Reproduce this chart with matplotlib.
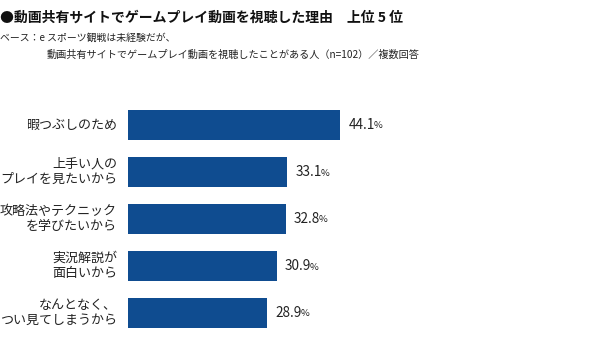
import matplotlib
matplotlib.use("Agg")
import matplotlib.pyplot as plt

plt.rcParams['font.family'] = ['Noto Sans CJK JP', 'DejaVu Sans']

categories = ["暇つぶしのため", "上手い人の\nプレイを見たいから", "攻略法やテクニック\nを学びたいから",
              "実況解説が\n面白いから", "なんとなく、\nつい見てしまうから"]
values = [44.1, 33.1, 32.8, 30.9, 28.9]

W, H = 600, 350
fig = plt.figure(figsize=(6, 3.5), dpi=100)
ax = fig.add_axes([128 / W, 1 - 336.5 / H, 288.6 / W, 235 / H])
ypos = list(range(len(values)))
ax.barh(ypos, values, height=30 / 47, color='#0f4c90')
ax.set_xlim(0, 60)
ax.set_ylim(4.5, -0.5)
for s in ax.spines.values():
    s.set_visible(False)
ax.set_xticks([])
ax.set_yticks([])

for y, c in zip(ypos, categories):
    ax.annotate(c, xy=(0, y), xycoords='data', xytext=(-8, 0), textcoords='offset points',
                ha='right', va='center', fontsize=9.4, linespacing=1.25, color='#222222')

fig.canvas.draw()
r = fig.canvas.get_renderer()
for y, v in zip(ypos, values):
    t = ax.annotate(f"{v:.1f}", xy=(v, y), xycoords='data', xytext=(6, 0), textcoords='offset points',
                    ha='left', va='center', fontsize=9.8, color='#222222')
    bb = t.get_window_extent(r)
    fig.text((bb.x1 - 1.5) / W, (bb.y0 + bb.y1) / 2 / H - 1 / H, "%", fontsize=6.8,
             ha='left', va='center', color='#222222')

fig.text(0.0, 1 - 18 / H, "●動画共有サイトでゲームプレイ動画を視聴した理由　上位 5 位", fontsize=10.0,
         fontweight='bold', ha='left', va='center', color='#111111')
fig.text(0.0, 1 - 38 / H, "ベース：e スポーツ観戦は未経験だが、", fontsize=7.1, ha='left', va='center', color='#222222')
fig.text(47 / W, 1 - 55 / H, "動画共有サイトでゲームプレイ動画を視聴したことがある人（n=102）／複数回答",
         fontsize=7.3, ha='left', va='center', color='#222222')

fig.savefig("out.png", dpi=100)
